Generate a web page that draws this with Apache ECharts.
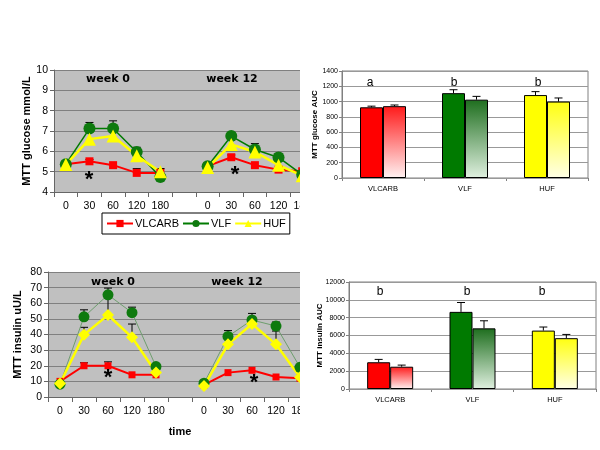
<!DOCTYPE html>
<html><head><meta charset="utf-8">
<script src="https://cdn.jsdelivr.net/npm/echarts/dist/echarts.min.js"></script>
<style>html,body{margin:0;padding:0;background:#fff}#c{width:600px;height:450px}</style>
</head><body><div id="c"></div>
<script>
// ---- data ----
const timeLabels = ['0','30','60','120','180','','0','30','60','120','180'];
const gluVLCARB = [5.37,5.51,5.32,4.94,4.94,null,5.27,5.71,5.32,5.10,5.02];
const gluVLF    = [5.37,7.12,7.12,5.97,4.74,null,5.27,6.75,6.09,5.70,4.85];
const gluHUF    = [5.35,6.60,6.75,5.78,5.00,null,5.20,6.34,5.97,5.32,4.80];
const gluVLCARBErr = [null,5.60,null,5.15,5.15,null,null,5.82,null,null,null];
const gluVLFErr    = [null,7.42,7.50,6.20,null,null,null,6.90,6.38,5.90,null];
const gluHUFErr    = [null,null,null,null,5.15,null,null,null,null,null,null];

const insVLCARB = [10.0,20.0,20.0,14.2,14.2,null,7.7,15.6,17.1,12.8,12.0];
const insVLF    = [8.2,51.3,65.4,54.0,19.5,null,8.8,38.8,49.3,45.4,19.0];
const insHUF    = [8.6,39.9,52.5,38.2,15.7,null,7.0,33.7,46.7,33.7,12.6];
const insVLCARBErr = [null,21.9,22.5,null,null,null,null,null,null,null,null];
const insVLFErr    = [null,55.8,69.7,57.5,null,null,null,42.5,53.5,48.0,null];
const insHUFErr    = [null,44.6,64.0,46.7,null,null,null,null,null,42.2,null];

const dietGroups = ['VLCARB','VLF','HUF'];
const gluAUCWeek0  = [925,1110,1085];
const gluAUCWeek12 = [940,1025,1000];
const gluAUCErr0   = [940,1155,1130];
const gluAUCErr12  = [955,1068,1047];
const insAUCWeek0  = [3000,8650,6550];
const insAUCWeek12 = [2500,6800,5700];
const insAUCErr0   = [3320,9700,6950];
const insAUCErr12  = [2680,7650,6120];
const gluLetters = ['a','b','b'];
const insLetters = ['b','b','b'];

// ---- styles ----
const FONT = 'Liberation Sans';
const solid = ['#FF0000','#007A00','#FFFF00'];
const gradTop = ['#FF1A1A','#1E6E1E','#FFFF10'];
const gradBot = ['#FFF2F2','#E0F0E0','#FFFFE6'];

const chart = echarts.init(document.getElementById('c'), null, {renderer:'canvas'});

function errSeries(xi, yi, vals, tops, offset, capHalf, z) {
  const data = [];
  tops.forEach((t,i)=>{ if (t!=null && vals[i]!=null) data.push([i, vals[i], t]); });
  return {
    type:'custom', xAxisIndex:xi, yAxisIndex:yi, z:z, silent:true,
    encode:{x:0, y:[1,2]}, data,
    renderItem:(p,api)=>{
      const a = api.coord([api.value(0), api.value(1)]);
      const b = api.coord([api.value(0), api.value(2)]);
      const x = a[0] + offset;
      return {type:'group', children:[
        {type:'line', shape:{x1:x,y1:a[1],x2:x,y2:b[1]}, style:{stroke:'#000',lineWidth:1}},
        {type:'line', shape:{x1:x-capHalf,y1:b[1],x2:x+capHalf,y2:b[1]}, style:{stroke:'#000',lineWidth:1}}
      ]};
    }
  };
}

function lineAxisX(gi, name) {
  return {type:'category', gridIndex:gi, data:timeLabels, boundaryGap:true,
    axisLine:{lineStyle:{color:'#666'}}, axisTick:{show:true, length:5, lineStyle:{color:'#666'}},
    axisLabel:{color:'#000', fontFamily:FONT, fontSize:10.5, margin:9, interval:0},
    name:name||'', nameLocation:'middle', nameGap:29, nameMoveOverlap:false,
    nameTextStyle:{fontFamily:FONT, fontSize:11, fontWeight:'bold', color:'#000'}};
}
function lineAxisY(gi, min, max, itv, name, gap) {
  return {type:'value', gridIndex:gi, min, max, interval:itv,
    axisLine:{show:true, lineStyle:{color:'#666'}}, axisTick:{show:true, length:4, lineStyle:{color:'#666'}},
    axisLabel:{color:'#000', fontFamily:FONT, fontSize:10.5, margin:6},
    splitLine:{lineStyle:{color:'#808080'}},
    name, nameLocation:'middle', nameGap:gap, nameRotate:90, nameMoveOverlap:false,
    nameTextStyle:{fontFamily:FONT, fontSize:11, fontWeight:'bold', color:'#000'}};
}
function barAxisX(gi) {
  return {type:'category', gridIndex:gi, data:dietGroups,
    axisLine:{lineStyle:{color:'#808080'}}, axisTick:{show:true, length:3, lineStyle:{color:'#808080'}},
    axisLabel:{color:'#000', fontFamily:FONT, fontSize:7.5, margin:7}};
}
function barAxisY(gi, max, itv, name, gap) {
  return {type:'value', gridIndex:gi, min:0, max, interval:itv, z:200,
    axisLine:{show:true, lineStyle:{color:'#808080'}}, axisTick:{show:true, length:3, lineStyle:{color:'#808080'}},
    axisLabel:{color:'#000', fontFamily:FONT, fontSize:7, margin:4, formatter:(v)=>String(v)},
    splitLine:{lineStyle:{color:'#999'}},
    name, nameLocation:'middle', nameGap:gap, nameRotate:90, nameMoveOverlap:false,
    nameTextStyle:{fontFamily:FONT, fontSize:8, fontWeight:'bold', color:'#000'}};
}

function lineSeries(name, xi, data, color, lw, symbol, size, lineColor) {
  return {type:'line', name, xAxisIndex:xi, yAxisIndex:xi, data, connectNulls:false,
    symbol, symbolSize:size, showSymbol:true, z:3,
    lineStyle:{color:lineColor||color, width:lw},
    itemStyle:{color, borderColor:color, borderWidth:0}};
}

function barSeries(name, gi, vals, grad) {
  return {type:'bar', name, xAxisIndex:gi, yAxisIndex:gi, barWidth:23, barGap:'0%', z:210,
    data: vals.map((v,i)=>({value:v, itemStyle:{
      color: grad ? {type:'linear',x:0,y:0,x2:0,y2:1,colorStops:[{offset:0,color:gradTop[i]},{offset:1,color:gradBot[i]}]} : solid[i],
      borderColor:'#000', borderWidth:1}}))};
}

function txt(x, y, s, size, weight, family) {
  return {type:'text', x, y, z:220, style:{text:s, fill:'#000', font:(weight||'normal')+' '+size+'px "'+(family||FONT)+'"', textAlign:'center', textVerticalAlign:'middle'}};
}

const option = {
  backgroundColor:'#fff',
  animation:false,
  legend:{data:['VLCARB','VLF','HUF'], left:102, top:213, orient:'horizontal',
    borderColor:'#000', borderWidth:1, padding:[5,4,5,4], itemGap:3, itemWidth:26, itemHeight:9,
    backgroundColor:'#fff',
    textStyle:{fontFamily:FONT, fontSize:11, color:'#000', padding:[0,0,0,-3]}},
  grid:[
    {left:54, top:70, width:260, height:122, show:true, backgroundColor:'#C0C0C0', borderWidth:0},
    {left:48, top:272, width:264, height:125, show:true, backgroundColor:'#C0C0C0', borderWidth:0},
    {left:342, top:71, width:246, height:107, show:true, backgroundColor:'#fff', borderColor:'#808080', borderWidth:1},
    {left:349, top:282, width:247, height:107, show:true, backgroundColor:'#fff', borderColor:'#808080', borderWidth:1}
  ],
  xAxis:[lineAxisX(0), lineAxisX(1,'time'), barAxisX(2), barAxisX(3)],
  yAxis:[
    lineAxisY(0,4,10,1,'MTT glucose mmol/L',22),
    lineAxisY(1,0,80,10,'MTT insulin uU/L',25),
    barAxisY(2,1400,200,'MTT glucose AUC',23),
    barAxisY(3,12000,2000,'MTT insulin AUC',25)
  ],
  series:[
    errSeries(0,0,gluVLCARB,gluVLCARBErr,0,4,1),
    errSeries(0,0,gluVLF,gluVLFErr,0,4,1),
    errSeries(0,0,gluHUF,gluHUFErr,0,4,1),
    lineSeries('VLCARB',0,gluVLCARB,'#FF0000',2,'rect',8),
    lineSeries('VLF',0,gluVLF,'#0E7A0E',1.5,'circle',12,'#007A00'),
    lineSeries('HUF',0,gluHUF,'#FFFF00',2.5,'triangle',13),

    errSeries(1,1,insVLCARB,insVLCARBErr,0,4,1),
    errSeries(1,1,insVLF,insVLFErr,0,4,1),
    errSeries(1,1,insHUF,insHUFErr,0,4,1),
    lineSeries('VLCARB',1,insVLCARB,'#FF0000',2,'rect',7),
    lineSeries('VLF',1,insVLF,'#0E7A0E',1,'circle',11,'#6E9E6E'),
    lineSeries('HUF',1,insHUF,'#FFFF00',2.5,'diamond',12),

    barSeries('gluW0',2,gluAUCWeek0,false),
    barSeries('gluW12',2,gluAUCWeek12,true),
    errSeries(2,2,gluAUCWeek0,gluAUCErr0,-11.5,4,211),
    errSeries(2,2,gluAUCWeek12,gluAUCErr12,11.5,4,211),

    barSeries('insW0',3,insAUCWeek0,false),
    barSeries('insW12',3,insAUCWeek12,true),
    errSeries(3,3,insAUCWeek0,insAUCErr0,-11.5,4,211),
    errSeries(3,3,insAUCWeek12,insAUCErr12,11.5,4,211)
  ],
  graphic:[
    {type:'rect', z:150, shape:{x:300,y:60,width:16,height:152}, style:{fill:'#fff'}},
    {type:'rect', z:150, shape:{x:300,y:262,width:14,height:160}, style:{fill:'#fff'}},
    txt(108,79,'week 0',11,'bold','DejaVu Sans'),
    txt(232,79,'week 12',11,'bold','DejaVu Sans'),
    txt(113,282,'week 0',11,'bold','DejaVu Sans'),
    txt(237,282,'week 12',11,'bold','DejaVu Sans'),
    txt(89,180,'*',22,'bold'),
    txt(235,175,'*',22,'bold'),
    txt(108,378,'*',22,'bold'),
    txt(254,383,'*',22,'bold'),
    txt(370,83,gluLetters[0],12,'normal'),
    txt(454,83,gluLetters[1],12,'normal'),
    txt(538,83,gluLetters[2],12,'normal'),
    txt(380,292,insLetters[0],12,'normal'),
    txt(467,292,insLetters[1],12,'normal'),
    txt(542,292,insLetters[2],12,'normal')
  ]
};
chart.setOption(option);
</script></body></html>
